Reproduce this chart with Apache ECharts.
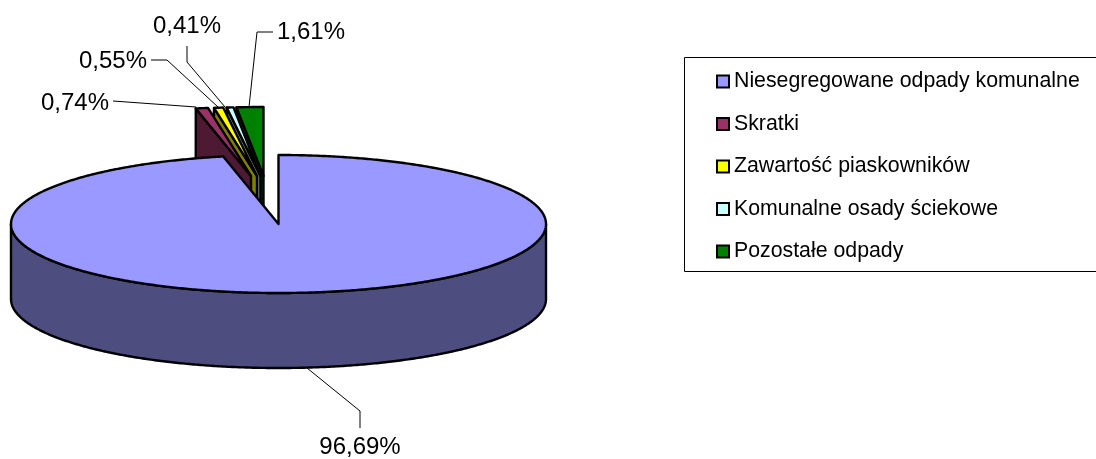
<!DOCTYPE html>
<html>
<head>
<meta charset="utf-8">
<style>
  html, body { margin: 0; padding: 0; background: #fff; }
  #chart { width: 1096px; height: 459px; }
</style>
<script src="https://cdn.jsdelivr.net/npm/echarts@6/dist/echarts.min.js"></script>
</head>
<body>
<div id="chart"></div>
<script>
const categories = ['Niesegregowane odpady komunalne', 'Skratki', 'Zawartość piaskowników', 'Komunalne osady ściekowe', 'Pozostałe odpady']
const shares = [96.69, 0.74, 0.55, 0.41, 1.61]

const topColors = ['#9999ff', '#993366', '#ffff00', '#ccffff', '#008000']
const wallColors = ['#4d4d80', '#4d1933', '#808000', '#668080', '#004000']

// pie layout in pixels
const cx = 278.5
const cy = 224
const rx = 267.5
const ry = 69
const depth = 75

// how far every slice is pulled out of the pie
const shifts = [[0, 0], [-27.5, -48], [-21.5, -48], [-18, -48], [-15, -48]]
// big slice on top, then the small ones from left to right
const sliceZ = [10, 9, 8, 7, 6]

// label centres and their leader lines
const labelPos = [[360, 447], [75, 103], [113, 61], [187, 26], [311, 32]]
const leaders = [
  [[307, 368], [360, 411], [360, 428]],
  [[113, 101], [196, 107]],
  [[151, 60], [167, 60], [218, 107]],
  [[187, 46], [187, 62], [225, 107]],
  [[273, 32], [257, 32], [249, 107]]
]

function rim(deg, dx, dy) {
  const a = deg * Math.PI / 180
  return [cx + dx + rx * Math.sin(a), cy + dy - ry * Math.cos(a)]
}

function arc(from, to, dx, dy) {
  const pts = []
  const n = Math.max(2, Math.ceil(Math.abs(to - from) * 2))
  for (let i = 0; i <= n; i++) {
    pts.push(rim(from + (to - from) * i / n, dx, dy))
  }
  return pts
}

const edge = { stroke: '#000', lineWidth: 2.4, lineJoin: 'round' }

function renderSlice(index) {
  return function(params, api) {
    const start = shares.slice(0, index).reduce((a, b) => a + b, 0) * 3.6
    const end = start + api.value(0) * 3.6
    const dx = shifts[index][0]
    const dy = shifts[index][1]
    const apex = [cx + dx, cy + dy]
    const children = []

    if (index === 0) {
      // front wall of the big slice
      const front = arc(90, 270, dx, dy).concat(arc(270, 90, dx, dy + depth))
      children.push({ type: 'polygon', shape: { points: front }, style: { fill: wallColors[index], ...edge } })
    } else {
      // left cut face, the only one that can be seen
      const s = rim(start, dx, dy)
      const cut = [s, apex, [apex[0], apex[1] + depth], [s[0], s[1] + depth]]
      children.push({ type: 'polygon', shape: { points: cut }, style: { fill: wallColors[index], ...edge } })
    }
    const face = [apex].concat(arc(start, end, dx, dy))
    children.push({ type: 'polygon', shape: { points: face }, style: { fill: topColors[index], ...edge } })
    return { type: 'group', children: children }
  }
}

function renderLabel(index) {
  return function(params, api) {
    const text = api.value(0).toFixed(2).replace('.', ',') + '%'
    return {
      type: 'group',
      children: [
        { type: 'polyline', shape: { points: leaders[index] }, style: { fill: null, stroke: '#000', lineWidth: 1 } },
        {
          type: 'text',
          style: {
            x: labelPos[index][0],
            y: labelPos[index][1],
            text: text,
            fill: '#000',
            font: '24px "Liberation Sans"',
            textAlign: 'center',
            textVerticalAlign: 'middle'
          }
        }
      ]
    }
  }
}

const series = categories.map((name, i) => ({
  name: name,
  type: 'custom',
  coordinateSystem: 'none',
  silent: true,
  z: sliceZ[i],
  itemStyle: { color: topColors[i] },
  renderItem: renderSlice(i),
  data: [[shares[i]]]
})).concat(categories.map((name, i) => ({
  type: 'custom',
  coordinateSystem: 'none',
  silent: true,
  z: 11,
  renderItem: renderLabel(i),
  data: [[shares[i]]]
})))

const chart = echarts.init(document.getElementById('chart'), null, { renderer: 'canvas' })
chart.setOption({
  animation: false,
  backgroundColor: '#fff',
  graphic: [{
    type: 'rect',
    shape: { x: 684.5, y: 57.5, width: 430, height: 214 },
    style: { fill: null, stroke: '#000', lineWidth: 1 }
  }],
  legend: {
    data: categories,
    orient: 'vertical',
    left: 716,
    top: 71,
    padding: 0,
    icon: 'rect',
    itemWidth: 12,
    itemHeight: 12,
    itemGap: 21.5,
    itemStyle: { borderColor: '#000', borderWidth: 2 },
    selectedMode: false,
    textStyle: { color: '#000', fontFamily: 'Liberation Sans', fontSize: 21.3, padding: [0, 0, 0, 0] }
  },
  series: series
})
</script>
</body>
</html>
